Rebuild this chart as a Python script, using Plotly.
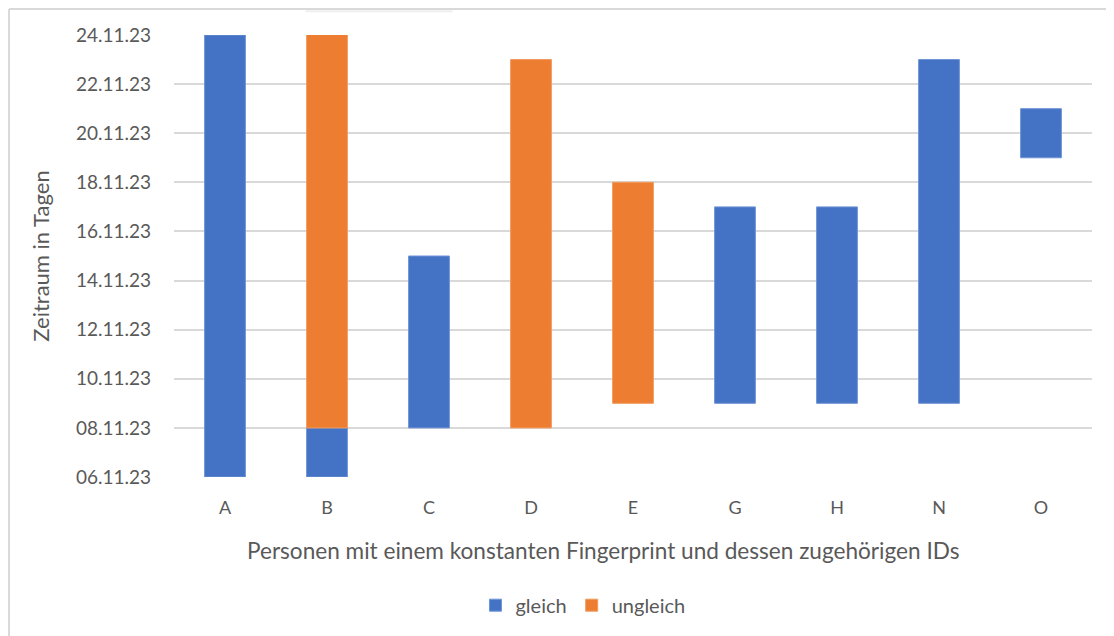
import pandas as pd
import plotly.graph_objects as go

categories = ["A", "B", "C", "D", "E", "G", "H", "N", "O"]
gleich_start = ["2023-11-06", "2023-11-06", "2023-11-08", None, None,
                "2023-11-09", "2023-11-09", "2023-11-09", "2023-11-19"]
gleich_end = ["2023-11-24", "2023-11-08", "2023-11-15", None, None,
              "2023-11-17", "2023-11-17", "2023-11-23", "2023-11-21"]
ungleich_start = [None, "2023-11-08", None, "2023-11-08", "2023-11-09",
                  None, None, None, None]
ungleich_end = [None, "2023-11-24 02:00", None, "2023-11-23", "2023-11-18",
                None, None, None, None]
tick_dates = ["2023-11-06", "2023-11-08", "2023-11-10", "2023-11-12", "2023-11-14",
              "2023-11-16", "2023-11-18", "2023-11-20", "2023-11-22", "2023-11-24"]
x_title = "Personen mit einem konstanten Fingerprint und dessen zugehörigen IDs"
y_title = "Zeitraum in Tagen"


def durations(starts, ends):
    out = []
    for s, e in zip(starts, ends):
        if s is None:
            out.append(None)
        else:
            out.append((pd.Timestamp(e) - pd.Timestamp(s)).total_seconds() * 1000)
    return out


FONT = "Lato"
GRAY = "#595959"

fig = go.Figure()
fig.add_trace(go.Bar(
    name="gleich", x=categories, y=durations(gleich_start, gleich_end),
    base=gleich_start, marker=dict(color="#4472C4", line=dict(color="#6f94d6", width=1)),
    width=0.4,
))
fig.add_trace(go.Bar(
    name="ungleich", x=categories, y=durations(ungleich_start, ungleich_end),
    base=ungleich_start, marker=dict(color="#ED7D31", line=dict(color="#f29a5e", width=1)),
    width=0.4,
))

fig.update_layout(
    width=1106, height=628,
    margin=dict(l=166, r=22, t=27, b=159, autoexpand=False),
    barmode="overlay",
    plot_bgcolor="white", paper_bgcolor="white",
    font=dict(family=FONT, color=GRAY, size=18),
    showlegend=True,
    legend=dict(orientation="h", x=0.4455, xanchor="center", y=-0.29, yanchor="middle",
                font=dict(size=20, color=GRAY), itemwidth=30, traceorder="normal"),
    xaxis=dict(
        type="category", categoryorder="array", categoryarray=categories,
        showgrid=False, showline=False, ticks="", ticklabelstandoff=18,
        tickfont=dict(size=18, color=GRAY),
    ),
    yaxis=dict(
        type="date", range=["2023-11-06", "2023-11-24"],
        tickvals=tick_dates, tickformat="%d.%m.%y",
        showgrid=True, gridcolor="#d9d9d9", gridwidth=1.5,
        showline=False, zeroline=False, ticks="", ticklabelstandoff=22,
        tickfont=dict(size=19, color=GRAY),
        title=dict(text=y_title, font=dict(size=22, color=GRAY), standoff=20),
    ),
    annotations=[
        dict(text=x_title, xref="paper", yref="paper", x=0.4684, y=-0.1655,
             xanchor="center", yanchor="middle", showarrow=False,
             font=dict(size=22.6, color=GRAY)),
    ],
    shapes=[
        dict(type="line", xref="paper", yref="paper", x0=-0.1797, x1=1.03, y0=1.0588, y1=1.0588,
             line=dict(color="#d9d9d9", width=2)),
        dict(type="line", xref="paper", yref="paper", x0=-0.1797, x1=-0.1797, y0=1.0588, y1=-0.4,
             line=dict(color="#d9d9d9", width=2)),
        dict(type="line", xref="paper", yref="paper", x0=0.1432, x1=0.3035, y0=1.054, y1=1.054,
             line=dict(color="#efefef", width=2)),
    ],
)

fig.write_html("out.html")
